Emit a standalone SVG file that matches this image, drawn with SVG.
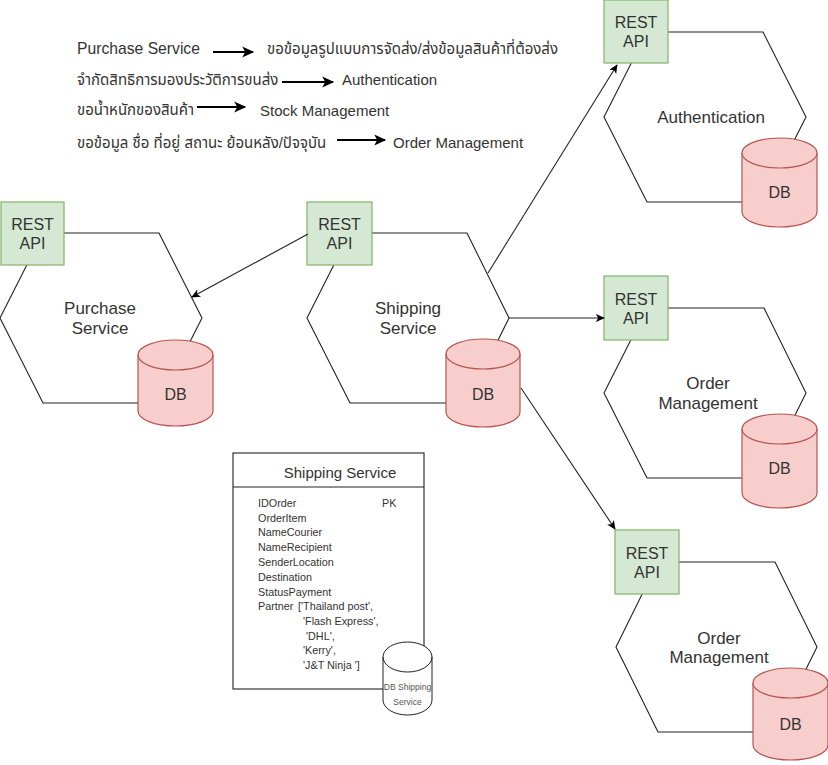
<svg xmlns="http://www.w3.org/2000/svg" width="828" height="765" viewBox="0 0 828 765">
<style>
text{font-family:"Liberation Sans","Noto Sans Thai","Noto Sans",Tahoma,sans-serif;fill:#333}
.hex{fill:#fff;stroke:#222;stroke-width:1.1}
.api{fill:#d5e8d4;stroke:#82b366;stroke-width:1.2}
.db{fill:#f8cecc;stroke:#b85450;stroke-width:1.2}
.dbl{fill:none;stroke:#b85450;stroke-width:1.2}
.dbw{fill:#fff;stroke:#222;stroke-width:1}
.dbwl{fill:none;stroke:#222;stroke-width:1}
.lbl{font-size:17px;text-anchor:middle}
.apit{font-size:16px;text-anchor:middle}
.dbt{font-size:16px;text-anchor:middle}
.leg{font-size:15px}
.row{font-size:10.8px}
.conn{fill:none;stroke:#222;stroke-width:1.1}
.legarr{fill:none;stroke:#000;stroke-width:2}
</style>
<defs>
<marker id="arr" viewBox="0 0 10 10" refX="9" refY="5" markerWidth="9" markerHeight="9" markerUnits="userSpaceOnUse" orient="auto">
<path d="M0,0.5 L10,5 L0,9.5 L2.5,5 Z" fill="#000"/>
</marker>
<marker id="arrL" viewBox="0 0 10 10" refX="9" refY="5" markerWidth="14" markerHeight="12" markerUnits="userSpaceOnUse" orient="auto">
<path d="M0,0.5 L10,5 L0,9.5 L2.5,5 Z" fill="#000"/>
</marker>
</defs>

<g id="legend">
<text class="leg" x="77" y="54" style="font-size:15.7px">Purchase Service</text>
<line class="legarr" x1="213" y1="52" x2="253" y2="52" marker-end="url(#arrL)"/>
<text class="leg" x="267" y="54">ขอข้อมูลรูปแบบการจัดส่ง/ส่งข้อมูลสินค้าที่ต้องส่ง</text>
<text class="leg" x="77" y="85">จำกัดสิทธิการมองประวัติการขนส่ง</text>
<line class="legarr" x1="282" y1="82" x2="333" y2="82" marker-end="url(#arrL)"/>
<text class="leg" x="342" y="85">Authentication</text>
<text class="leg" x="77" y="115">ขอน้ำหนักของสินค้า</text>
<line class="legarr" x1="197" y1="107" x2="245" y2="107" marker-end="url(#arrL)"/>
<text class="leg" x="260" y="116">Stock Management</text>
<text class="leg" x="77" y="148">ขอข้อมูล ชื่อ ที่อยู่ สถานะ ย้อนหลัง/ปัจจุบัน</text>
<line class="legarr" x1="337" y1="140" x2="385" y2="140" marker-end="url(#arrL)"/>
<text class="leg" x="393" y="148">Order Management</text>
</g>

<g id="purchase-service">
<polygon class="hex" points="43,233 159,233 202,318 159,403 43,403 0,318"/>
<text class="lbl" x="100" y="314">Purchase</text>
<text class="lbl" x="100" y="334">Service</text>
<rect class="api" x="1" y="202" width="63" height="63"/>
<text class="apit" x="32.5" y="230">REST</text>
<text class="apit" x="32.5" y="249">API</text>
<path class="db" d="M138,355 A37.5,15 0 0 1 213,355 V411 A37.5,15 0 0 1 138,411 Z"/>
<path class="dbl" d="M138,355 A37.5,15 0 0 0 213,355"/>
<text class="dbt" x="175.5" y="400">DB</text>
</g>

<g id="shipping-service">
<polygon class="hex" points="350,233 467,233 509,318 467,403 350,403 307,318"/>
<text class="lbl" x="408" y="314">Shipping</text>
<text class="lbl" x="408" y="334">Service</text>
<rect class="api" x="307" y="202" width="65" height="63"/>
<text class="apit" x="339.5" y="230">REST</text>
<text class="apit" x="339.5" y="249">API</text>
<path class="db" d="M446,354 A37,15 0 0 1 520,354 V412 A37,15 0 0 1 446,412 Z"/>
<path class="dbl" d="M446,354 A37,15 0 0 0 520,354"/>
<text class="dbt" x="483" y="400">DB</text>
</g>

<g id="authentication">
<polygon class="hex" points="647,32 763,32 806,117 763,202 647,202 604,117"/>
<text class="lbl" x="711" y="123">Authentication</text>
<rect class="api" x="604" y="0" width="64" height="63"/>
<text class="apit" x="636" y="28">REST</text>
<text class="apit" x="636" y="47">API</text>
<path class="db" d="M742,153 A37.5,15 0 0 1 817,153 V212 A37.5,15 0 0 1 742,212 Z"/>
<path class="dbl" d="M742,153 A37.5,15 0 0 0 817,153"/>
<text class="dbt" x="779.5" y="198">DB</text>
</g>

<g id="order-management-1">
<polygon class="hex" points="647,308 764,308 806,393 764,478 647,478 604,393"/>
<text class="lbl" x="708" y="389">Order</text>
<text class="lbl" x="708" y="409">Management</text>
<rect class="api" x="604" y="276" width="64" height="64"/>
<text class="apit" x="636" y="304.5">REST</text>
<text class="apit" x="636" y="323.5">API</text>
<path class="db" d="M742,429 A37.5,15 0 0 1 817,429 V493 A37.5,15 0 0 1 742,493 Z"/>
<path class="dbl" d="M742,429 A37.5,15 0 0 0 817,429"/>
<text class="dbt" x="779.5" y="474">DB</text>
</g>

<g id="order-management-2">
<polygon class="hex" points="658,562 775,562 817,647 775,732 658,732 616,647"/>
<text class="lbl" x="719" y="644">Order</text>
<text class="lbl" x="719" y="663">Management</text>
<rect class="api" x="615" y="530" width="64" height="64"/>
<text class="apit" x="647" y="558.5">REST</text>
<text class="apit" x="647" y="577.5">API</text>
<path class="db" d="M753,683 A37.5,15 0 0 1 828,683 V745 A37.5,15 0 0 1 753,745 Z"/>
<path class="dbl" d="M753,683 A37.5,15 0 0 0 828,683"/>
<text class="dbt" x="790.5" y="730">DB</text>
</g>

<g id="shipping-table">
<rect x="233" y="453" width="191" height="236" fill="#fff" stroke="#222" stroke-width="1.1"/>
<line x1="233" y1="487" x2="424" y2="487" stroke="#222" stroke-width="1.1"/>
<text x="340" y="478" style="font-size:15px;text-anchor:middle">Shipping Service</text>
<text class="row" x="258" y="507">IDOrder</text>
<text class="row" x="382" y="507">PK</text>
<text class="row" x="258" y="522">OrderItem</text>
<text class="row" x="258" y="536">NameCourier</text>
<text class="row" x="258" y="551">NameRecipient</text>
<text class="row" x="258" y="566">SenderLocation</text>
<text class="row" x="258" y="581">Destination</text>
<text class="row" x="258" y="596">StatusPayment</text>
<text class="row" x="258" y="610">Partner</text>
<text class="row" x="298" y="610">['Thailand post',</text>
<text class="row" x="303" y="625">'Flash Express',</text>
<text class="row" x="306" y="640">'DHL',</text>
<text class="row" x="303" y="654">'Kerry',</text>
<text class="row" x="303" y="669">'J&amp;T Ninja ']</text>
</g>

<g id="db-shipping-service">
<path class="dbw" d="M383,657 A24.5,15 0 0 1 432,657 V700 A24.5,15 0 0 1 383,700 Z"/>
<path class="dbwl" d="M383,657 A24.5,15 0 0 0 432,657"/>
<text x="407.5" y="690" style="font-size:8.5px;text-anchor:middle;fill:#555">DB Shipping</text>
<text x="407.5" y="705" style="font-size:8.5px;text-anchor:middle;fill:#555">Service</text>
</g>

<g id="connectors">
<line class="conn" x1="308" y1="234" x2="192" y2="297" marker-end="url(#arr)"/>
<line class="conn" x1="488" y1="273" x2="617" y2="65" marker-end="url(#arr)"/>
<line class="conn" x1="509" y1="318" x2="604" y2="318" marker-end="url(#arr)"/>
<line class="conn" x1="521" y1="388" x2="615" y2="529" marker-end="url(#arr)"/>
</g>
</svg>
